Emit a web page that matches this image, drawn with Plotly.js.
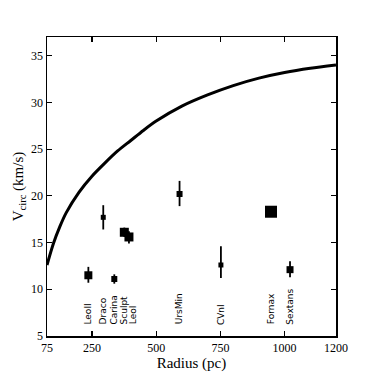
<!DOCTYPE html>
<html>
<head>
<meta charset="utf-8">
<script src="https://cdn.plot.ly/plotly-3.0.1.min.js"></script>
<style>
  html, body { margin: 0; padding: 0; background: #fff; }
  #graphDiv { width: 374px; height: 374px; }
</style>
</head>
<body>
<div id="graphDiv"></div>
<script>
  // circular velocity curve of the halo
  var curveR = [75, 100, 125, 150, 200, 250, 300, 350, 400, 450, 500, 600, 700, 800, 900, 1000, 1100, 1200];
  var curveV = [12.6, 14.9, 16.7, 18.2, 20.4, 22.1, 23.5, 24.8, 25.9, 27.0, 28.0, 29.6, 30.8, 31.8, 32.6, 33.2, 33.65, 34.0];

  // dwarf spheroidals
  var names = ['LeoII', 'Draco', 'Carina', 'Sculpt', 'LeoI', 'UrsMin', 'CVnI', 'Fornax', 'Sextans'];
  var radius = [236, 294, 337, 376, 394, 591, 752, 947, 1021];
  var vcirc = [11.5, 17.7, 11.1, 16.1, 15.6, 20.2, 12.6, 18.3, 12.1];
  var errUp = [0.9, 1.3, 0.5, 0.5, 0.6, 1.4, 2.0, 0, 0.9];
  var errDown = [0.8, 1.3, 0.5, 0.5, 0.7, 1.3, 1.4, 0, 0.8];
  var markSize = [8, 5, 6, 9, 9, 6, 5, 12, 7];
  var labelR = [236, 294, 337, 376, 410, 589, 752, 947, 1021];

  var curve = {
    x: curveR,
    y: curveV,
    mode: 'lines',
    line: { color: 'black', width: 3, shape: 'spline', smoothing: 0.8 },
    hoverinfo: 'none'
  };

  var dwarfs = {
    x: radius,
    y: vcirc,
    mode: 'markers',
    opacity: 1,
    marker: {
      color: '#000000', symbol: 'square', size: markSize, opacity: 1,
      line: { width: 0, color: '#000000' }
    },
    error_y: {
      type: 'data', symmetric: false,
      array: errUp, arrayminus: errDown,
      color: '#000000', thickness: 1.8, width: 0
    },
    text: names
  };

  var labels = [];
  for (var i = 0; i < names.length; i++) {
    labels.push({
      x: labelR[i], y: 6.0, xref: 'x', yref: 'y',
      text: names[i], showarrow: false, textangle: -90,
      xanchor: 'center', yanchor: 'bottom',
      font: { family: 'DejaVu Sans', size: 9, color: 'black' }
    });
  }

  var tickFont = { family: 'Liberation Serif', size: 12, color: 'black' };

  var layout = {
    width: 374, height: 374,
    margin: { l: 47, r: 38, t: 37, b: 38 },
    paper_bgcolor: 'white',
    plot_bgcolor: 'white',
    showlegend: false,
    xaxis: {
      range: [75, 1200],
      tickvals: [75, 250, 500, 750, 1000, 1200],
      ticktext: ['75', '250', '500', '750', '1000', '1200'],
      ticks: 'inside', ticklen: 5, tickwidth: 1.2, tickcolor: 'black',
      showgrid: false, zeroline: false,
      showline: true, linecolor: 'black', linewidth: 1.5, mirror: 'ticks',
      tickfont: tickFont,
      title: { text: 'Radius (pc)', font: { family: 'Liberation Serif', size: 15, color: 'black' }, standoff: 1 }
    },
    yaxis: {
      range: [5, 37],
      tickvals: [5, 10, 15, 20, 25, 30, 35],
      ticks: 'inside', ticklen: 5, tickwidth: 1.2, tickcolor: 'black',
      showgrid: false, zeroline: false,
      showline: true, linecolor: 'black', linewidth: 1.5, mirror: 'ticks',
      tickfont: tickFont,
      title: { text: 'V<sub>circ</sub> (km/s)', font: { family: 'Liberation Serif', size: 15, color: 'black' }, standoff: 4 }
    },
    annotations: labels
  };

  Plotly.newPlot('graphDiv', [curve, dwarfs], layout, { staticPlot: true });
</script>
</body>
</html>
